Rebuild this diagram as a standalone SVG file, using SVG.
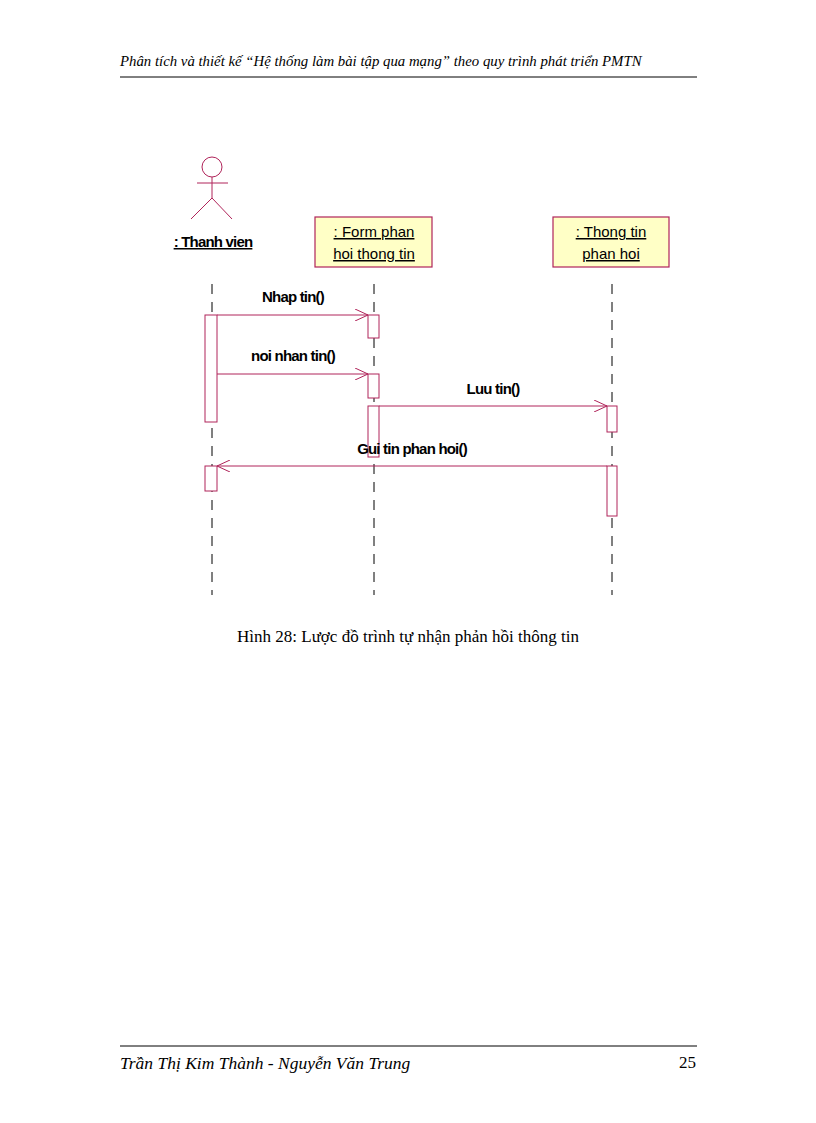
<svg xmlns="http://www.w3.org/2000/svg" width="816" height="1123" viewBox="0 0 816 1123">
<style>
.ln{stroke:#b0245a;stroke-width:1;fill:none}
.ll{stroke:#000;stroke-width:1;stroke-dasharray:10 8}
.act{fill:#fff;stroke:#b0245a;stroke-width:1}
.box{fill:#ffffc6;stroke:#b0245a;stroke-width:1.2}
.obj{font-family:"Liberation Sans",Arial,sans-serif;font-size:15px;text-decoration:underline;text-anchor:middle;fill:#000}
.msg{font-family:"Liberation Sans",Arial,sans-serif;font-size:15px;font-weight:bold;text-anchor:middle;fill:#000;letter-spacing:-0.8px}
.hd{font-family:"Liberation Serif","Times New Roman",serif;font-style:italic;font-size:14.8px;fill:#000}
</style>
<defs><marker id="ar" markerWidth="14" markerHeight="12" refX="13" refY="6" orient="auto" markerUnits="userSpaceOnUse"><path d="M0,0 L13,6 L0,12" fill="none" stroke="#b0245a"/></marker></defs>
<text class="hd" x="120" y="66">Phân tích và thiết kế “Hệ thống làm bài tập qua mạng” theo quy trình phát triển PMTN</text>
<line x1="120" y1="77" x2="697" y2="77" stroke="#000"/>
<g id="actor">
<circle class="ln" cx="212" cy="167" r="10"/>
<line class="ln" x1="197" y1="183" x2="228" y2="183"/>
<line class="ln" x1="212" y1="177" x2="212" y2="198"/>
<path class="ln" d="M191,219 L212,198 L232,219"/>
<text x="213" y="247" font-family="Liberation Sans,Arial,sans-serif" font-size="15" font-weight="bold" text-anchor="middle" text-decoration="underline" letter-spacing="-0.8">: Thanh vien</text>
</g>
<g id="form"><rect class="box" x="315" y="217" width="117" height="50"/><text class="obj" x="374" y="237">: Form phan </text><text class="obj" x="374" y="259">hoi thong tin</text></g>
<g id="thongtin"><rect class="box" x="553" y="217" width="116" height="50"/><text class="obj" x="611" y="237"> : Thong tin </text><text class="obj" x="611" y="259">phan hoi</text></g>
<g id="lifelines">
<line class="ll" x1="212" y1="284" x2="212" y2="595"/>
<line class="ll" x1="374" y1="284" x2="374" y2="595"/>
<line class="ll" x1="612" y1="284" x2="612" y2="595"/>
</g>
<g id="activations">
<rect class="act" x="205" y="315" width="12" height="107"/>
<rect class="act" x="205" y="466" width="12" height="25"/>
<rect class="act" x="368" y="315" width="11" height="23"/>
<rect class="act" x="368" y="374" width="11" height="24"/>
<rect class="act" x="368" y="406" width="11" height="51"/>
<rect class="act" x="607" y="406" width="10" height="26"/>
<rect class="act" x="607" y="466" width="10" height="50"/>
</g>
<g id="connectors">
<line class="ln" x1="217" y1="315" x2="368" y2="315" marker-end="url(#ar)"/>
<line class="ln" x1="217" y1="374" x2="368" y2="374" marker-end="url(#ar)"/>
<line class="ln" x1="379" y1="406" x2="607" y2="406" marker-end="url(#ar)"/>
<line class="ln" x1="607" y1="466" x2="217" y2="466" marker-end="url(#ar)"/>
<text class="msg" x="293" y="302">Nhap tin()</text>
<text class="msg" x="293" y="361">noi nhan tin()</text>
<text class="msg" x="493" y="394">Luu tin()</text>
<text class="msg" x="412" y="454">Gui tin phan hoi()</text>
</g>
<text x="408" y="642" font-family="Liberation Serif,Times New Roman,serif" font-size="17" text-anchor="middle">Hình 28: Lược đồ trình tự  nhận phản hồi thông tin</text>
<line x1="120" y1="1046" x2="697" y2="1046" stroke="#000"/>
<text class="hd" x="120" y="1069" style="font-size:17.5px">Trần Thị Kim Thành - Nguyễn Văn Trung</text>
<text x="696" y="1068" font-family="Liberation Serif,Times New Roman,serif" font-size="17" text-anchor="end">25</text>
</svg>
